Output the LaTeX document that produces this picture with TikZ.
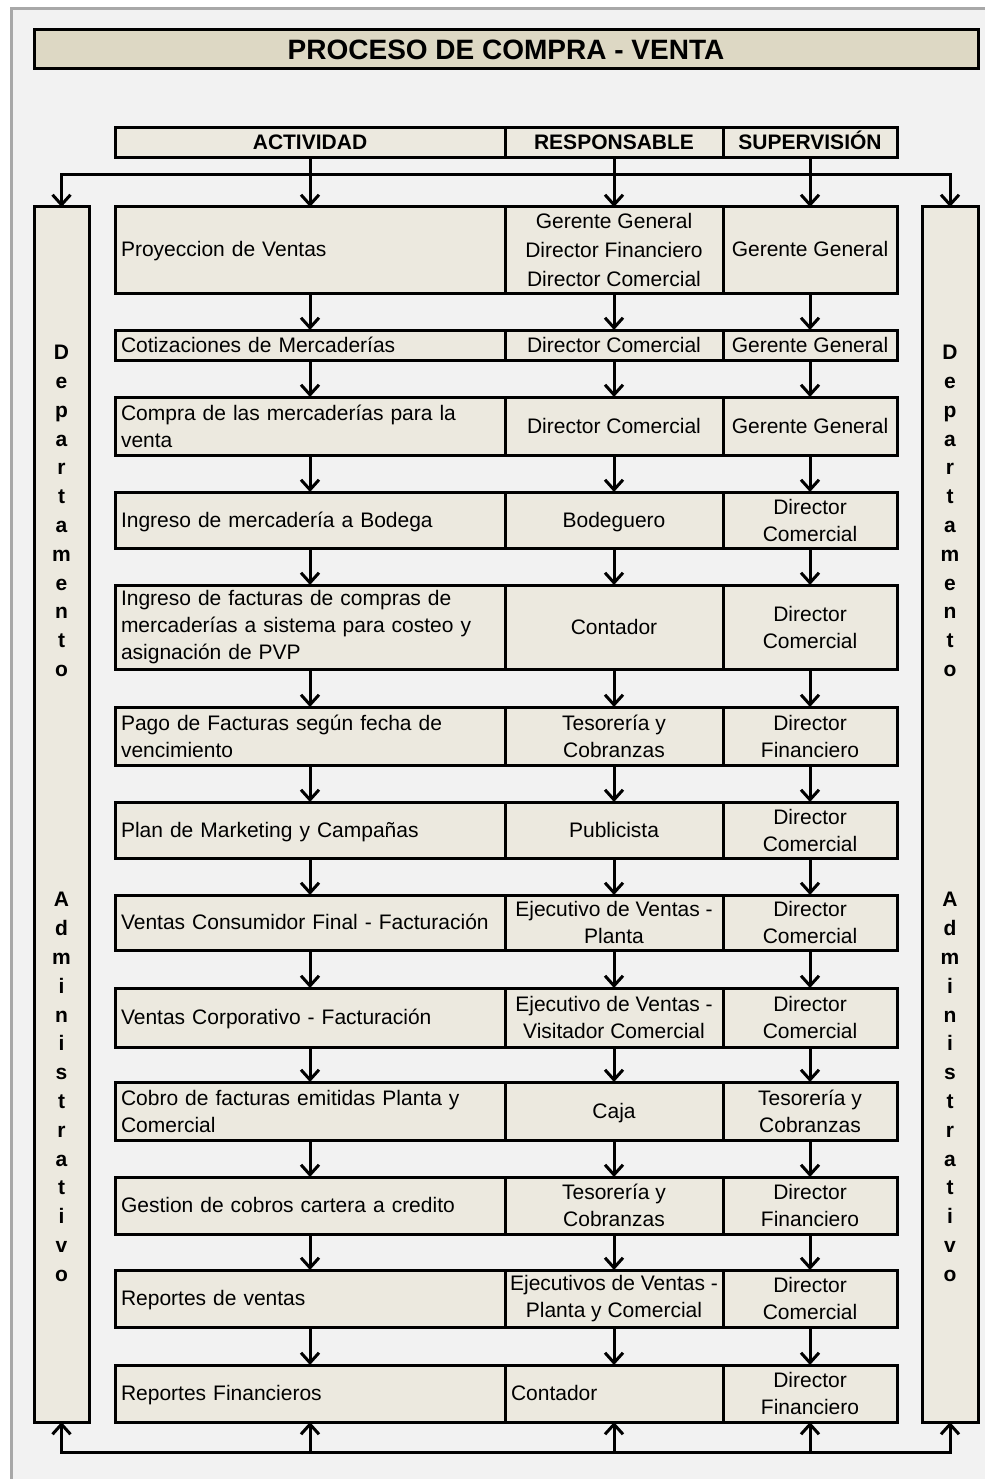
\documentclass[tikz,border=0pt]{standalone}
\usepackage{fontspec}
\setmainfont{Liberation Sans}
\usetikzlibrary{arrows.meta}
\definecolor{pagebg}{HTML}{F2F2F2}
\definecolor{framegray}{HTML}{A8A8A8}
\definecolor{cellfill}{HTML}{ECE9DF}
\definecolor{titlefill}{HTML}{DDD8C4}

\begin{document}
\begin{tikzpicture}[x=1pt,y=-1pt,
  font=\fontsize{21}{27}\selectfont,
  >={Straight Barb[length=10pt,width=18pt]},
  cell/.style={draw,line width=3pt,fill=cellfill,inner sep=0pt,outer sep=0pt,align=center},
  act/.style={cell,minimum width=390pt,text width=378pt,align=left},
  resp/.style={cell,minimum width=218pt},
  sup/.style={cell,minimum width=174pt},
  one/.style={text height=17pt,text depth=3pt},
  head/.style={cell,one,minimum height=30pt,font=\fontsize{21}{27}\selectfont\bfseries},
  bar/.style={cell,minimum height=1215pt},
  vtext/.style={align=center,font=\fontsize{21}{28.8}\selectfont\bfseries},
  flow/.style={->,line width=3pt}]
  \useasboundingbox (0,0) rectangle (985,1479);
  \fill[white] (0,0) rectangle (985,1479);
  \fill[pagebg] (11,9) rectangle (985,1479);
  \draw[framegray,line width=3pt] (11,1479) -- (11,9) -- (985,9);

  \node (title) at (506,49.5) [cell,fill=titlefill,minimum width=944pt,minimum height=39pt,text height=24pt,text depth=4pt,font=\fontsize{28}{34}\selectfont\bfseries] {PROCESO DE COMPRA - VENTA};

  \node (hAct) at (310,143) [head,minimum width=390pt] {ACTIVIDAD};
  \node (hRes) at (614,143) [head,minimum width=218pt] {RESPONSABLE};
  \node (hSup) at (810,143) [head,minimum width=174pt] {SUPERVISIÓN};

  \node (barL) at (61.5,814.5) [bar,minimum width=55pt] {};
  \node (barR) at (950,814.5) [bar,minimum width=56pt] {};
  \node (deptL) at (61.5,511) [vtext] {D\\e\\p\\a\\r\\t\\a\\m\\e\\n\\t\\o};
  \node (admL) at (61.5,1087) [vtext] {A\\d\\m\\i\\n\\i\\s\\t\\r\\a\\t\\i\\v\\o};
  \node (deptR) at (950,511) [vtext] {D\\e\\p\\a\\r\\t\\a\\m\\e\\n\\t\\o};
  \node (admR) at (950,1087) [vtext] {A\\d\\m\\i\\n\\i\\s\\t\\r\\a\\t\\i\\v\\o};

  \node (a1) at (310,250) [act,one,minimum height=86pt] {Proyeccion de Ventas};
  \node (r1) at (614,250) [resp,minimum height=86pt] {Gerente General\\[2pt]Director Financiero\\[2pt]Director Comercial};
  \node (s1) at (810,250) [sup,one,minimum height=86pt] {Gerente General};

  \node (a2) at (310,345) [act,one,minimum height=30pt] {Cotizaciones de Mercaderías};
  \node (r2) at (614,345) [resp,one,minimum height=30pt] {Director Comercial};
  \node (s2) at (810,345) [sup,one,minimum height=30pt] {Gerente General};

  \node (a3) at (310,426) [act,minimum height=58pt] {Compra de las mercaderías para la\\venta};
  \node (r3) at (614,426) [resp,one,minimum height=58pt] {Director Comercial};
  \node (s3) at (810,426) [sup,one,minimum height=58pt] {Gerente General};

  \node (a4) at (310,520) [act,one,minimum height=56pt] {Ingreso de mercadería a Bodega};
  \node (r4) at (614,520) [resp,one,minimum height=56pt] {Bodeguero};
  \node (s4) at (810,520) [sup,minimum height=56pt] {Director\\Comercial};

  \node (a5) at (310,627) [act,minimum height=84pt] {Ingreso de facturas de compras de\\mercaderías a sistema para costeo y\\asignación de PVP};
  \node (r5) at (614,627) [resp,one,minimum height=84pt] {Contador};
  \node (s5) at (810,627) [sup,minimum height=84pt] {Director\\Comercial};

  \node (a6) at (310,736) [act,minimum height=58pt] {Pago de Facturas según fecha de\\vencimiento};
  \node (r6) at (614,736) [resp,minimum height=58pt] {Tesorería y\\Cobranzas};
  \node (s6) at (810,736) [sup,minimum height=58pt] {Director\\Financiero};

  \node (a7) at (310,830) [act,one,minimum height=56pt] {Plan de Marketing y Campañas};
  \node (r7) at (614,830) [resp,one,minimum height=56pt] {Publicista};
  \node (s7) at (810,830) [sup,minimum height=56pt] {Director\\Comercial};

  \node (a8) at (310,922.5) [act,one,minimum height=55pt] {Ventas Consumidor Final - Facturación};
  \node (r8) at (614,922.5) [resp,minimum height=55pt] {Ejecutivo de Ventas -\\Planta};
  \node (s8) at (810,922.5) [sup,minimum height=55pt] {Director\\Comercial};

  \node (a9) at (310,1017.5) [act,one,minimum height=59pt] {Ventas Corporativo - Facturación};
  \node (r9) at (614,1017.5) [resp,minimum height=59pt] {Ejecutivo de Ventas -\\Visitador Comercial};
  \node (s9) at (810,1017.5) [sup,minimum height=59pt] {Director\\Comercial};

  \node (a10) at (310,1111) [act,minimum height=58pt] {Cobro de facturas emitidas Planta y\\Comercial};
  \node (r10) at (614,1111) [resp,one,minimum height=58pt] {Caja};
  \node (s10) at (810,1111) [sup,minimum height=58pt] {Tesorería y\\Cobranzas};

  \node (a11) at (310,1205.5) [act,one,minimum height=57pt] {Gestion de cobros cartera a credito};
  \node (r11) at (614,1205.5) [resp,minimum height=57pt] {Tesorería y\\Cobranzas};
  \node (s11) at (810,1205.5) [sup,minimum height=57pt] {Director\\Financiero};

  \node (a12) at (310,1298.5) [act,one,minimum height=57pt] {Reportes de ventas};
  \node (r12) at (614,1298.5) [resp,minimum height=57pt] {Ejecutivos de Ventas -\\Planta y Comercial};
  \node (s12) at (810,1298.5) [sup,minimum height=57pt] {Director\\Comercial};

  \node (a13) at (310,1393.5) [act,one,minimum height=57pt] {Reportes Financieros};
  \node (r13) at (614,1393.5) [resp,one,minimum height=57pt,text width=206pt,align=left] {Contador};
  \node (s13) at (810,1393.5) [sup,minimum height=57pt] {Director\\Financiero};

  % reparto desde la cabecera
  \coordinate (busT) at (0,175);
  \draw[flow] (hAct.south |- busT) -| (barL.north);
  \draw[flow] (hSup.south |- busT) -| (barR.north);
  \draw[line width=3pt] (hAct.south |- busT) -- (hSup.south |- busT);
  \draw[flow] (hAct) edge (a1) (hRes) edge (r1) (hSup) edge (s1);

  % flujo entre actividades
  \draw[flow] (a1) edge (a2) (r1) edge (r2) (s1) edge (s2);
  \draw[flow] (a2) edge (a3) (r2) edge (r3) (s2) edge (s3);
  \draw[flow] (a3) edge (a4) (r3) edge (r4) (s3) edge (s4);
  \draw[flow] (a4) edge (a5) (r4) edge (r5) (s4) edge (s5);
  \draw[flow] (a5) edge (a6) (r5) edge (r6) (s5) edge (s6);
  \draw[flow] (a6) edge (a7) (r6) edge (r7) (s6) edge (s7);
  \draw[flow] (a7) edge (a8) (r7) edge (r8) (s7) edge (s8);
  \draw[flow] (a8) edge (a9) (r8) edge (r9) (s8) edge (s9);
  \draw[flow] (a9) edge (a10) (r9) edge (r10) (s9) edge (s10);
  \draw[flow] (a10) edge (a11) (r10) edge (r11) (s10) edge (s11);
  \draw[flow] (a11) edge (a12) (r11) edge (r12) (s11) edge (s12);
  \draw[flow] (a12) edge (a13) (r12) edge (r13) (s12) edge (s13);

  % retorno al departamento
  \coordinate (busB) at (0,1452);
  \draw[flow] (a13.south |- busB) -| (barL.south);
  \draw[flow] (s13.south |- busB) -| (barR.south);
  \draw[line width=3pt] (a13.south |- busB) -- (s13.south |- busB);
  \draw[flow] (a13.south |- busB) -- (a13.south);
  \draw[flow] (r13.south |- busB) -- (r13.south);
  \draw[flow] (s13.south |- busB) -- (s13.south);
\end{tikzpicture}
\end{document}
